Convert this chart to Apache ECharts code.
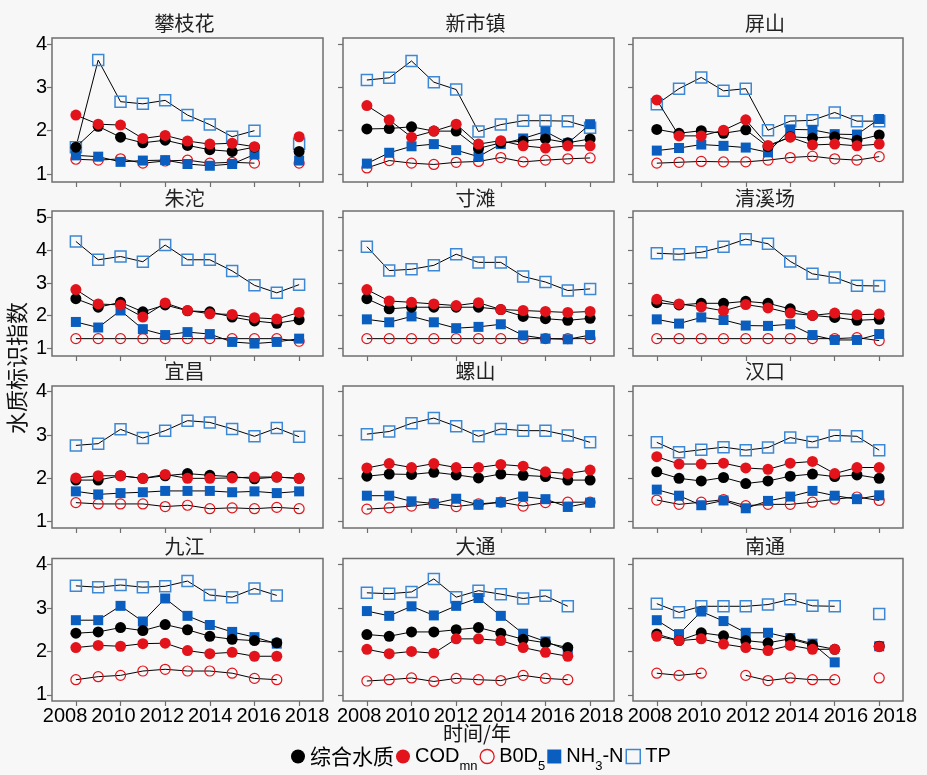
<!DOCTYPE html>
<html><head><meta charset="utf-8">
<script src="https://cdn.jsdelivr.net/npm/echarts@6/dist/echarts.min.js"></script>
<style>html,body{margin:0;padding:0;background:#f7f7f7}#c{width:927px;height:775px}</style>
</head><body><div id="c"></div>
<script>
// ---------------- data ----------------
const years = [2008,2009,2010,2011,2012,2013,2014,2015,2016,2017,2018];
const xTicks = [2008,2010,2012,2014,2016,2018];
const yTicks4 = [1,2,3,4];
const yTicks5 = [1,2,3,4,5];
const stations = ['攀枝花','新市镇','屏山','朱沱','寸滩','清溪场','宜昌','螺山','汉口','九江','大通','南通'];

// 综合水质
const wqi = [
  [1.62,2.10,1.85,1.72,1.78,1.66,1.56,1.52,1.62,null,1.52],
  [2.04,2.05,2.09,1.99,1.99,1.59,1.72,1.76,1.81,1.72,1.81],
  [2.03,1.94,2.00,1.94,2.02,1.63,1.86,1.83,1.86,1.78,1.90],
  [2.52,2.26,2.41,2.12,2.33,2.15,2.12,1.96,1.84,1.77,1.88],
  [2.52,2.21,2.26,2.26,2.26,2.26,2.19,1.98,1.91,1.86,1.92],
  [2.40,2.33,2.38,2.38,2.44,2.38,2.21,2.01,1.95,1.86,1.89],
  [1.96,1.96,2.06,2.00,2.06,2.11,2.07,2.04,1.99,2.03,2.00],
  [2.05,2.10,2.09,2.14,2.08,2.01,2.10,2.07,2.04,1.96,1.96],
  [2.15,2.00,1.94,2.02,1.88,1.94,2.05,2.10,2.04,2.08,2.00],
  [2.42,2.45,2.55,2.48,2.62,2.50,2.35,2.28,2.25,2.20,null],
  [2.39,2.35,2.45,2.45,2.50,2.55,2.42,2.28,2.20,2.09,null],
  [2.40,2.25,2.43,2.36,2.25,2.20,2.29,2.15,2.05,null,2.12]
];
// COD_mn
const cod = [
  [2.36,2.15,2.13,1.82,1.89,1.76,1.69,1.71,1.63,null,1.86],
  [2.58,2.25,1.85,1.99,2.15,1.69,1.77,1.65,1.60,1.65,1.65],
  [2.71,1.88,1.88,2.01,2.25,1.66,1.85,1.67,1.69,1.65,1.69],
  [2.80,2.36,2.33,1.96,2.39,2.16,2.06,2.04,1.94,1.90,2.10],
  [2.80,2.45,2.41,2.36,2.31,2.40,2.19,2.16,2.13,2.10,2.13],
  [2.50,2.36,2.27,2.15,2.34,2.24,2.08,2.01,2.08,2.03,2.05],
  [2.01,2.06,2.06,2.00,2.09,2.00,2.00,2.01,2.03,2.03,2.00],
  [2.24,2.34,2.25,2.34,2.25,2.25,2.32,2.28,2.15,2.11,2.19],
  [2.50,2.33,2.33,2.35,2.24,2.21,2.35,2.39,2.11,2.25,2.25],
  [2.09,2.14,2.12,2.18,2.19,2.02,1.95,1.98,1.89,1.89,null],
  [2.05,1.95,2.00,1.96,2.29,2.29,2.25,2.09,1.98,1.89,null],
  [2.35,2.25,2.29,2.17,2.09,2.02,2.14,2.05,2.05,null,2.11]
];
// BOD5
const bod = [
  [1.34,1.32,1.35,1.25,1.30,1.32,1.25,1.27,1.25,null,1.25],
  [1.14,1.31,1.25,1.22,1.27,1.29,1.38,1.28,1.32,1.35,1.37],
  [1.25,1.27,1.29,1.28,1.28,1.32,1.38,1.41,1.35,1.32,1.40],
  [1.30,1.30,1.30,1.30,1.30,1.30,1.30,1.30,1.30,1.30,1.22],
  [1.30,1.30,1.30,1.30,1.30,1.30,1.30,1.30,1.30,1.30,1.30],
  [1.30,1.30,1.30,1.30,1.30,1.30,1.30,1.30,1.30,1.33,1.24],
  [1.44,1.41,1.41,1.41,1.35,1.38,1.30,1.32,1.30,1.33,1.30],
  [1.29,1.32,1.36,1.42,1.35,1.41,1.45,1.36,1.44,1.45,1.45],
  [1.50,1.40,1.45,1.51,1.37,1.40,1.40,1.45,1.52,1.57,1.49],
  [1.35,1.42,1.45,1.55,1.59,1.55,1.55,1.50,1.38,1.35,null],
  [1.32,1.35,1.39,1.31,1.38,1.35,1.33,1.45,1.38,1.35,null],
  [1.50,1.45,1.50,null,1.45,1.33,1.39,1.35,1.35,null,1.39]
];
// NH3-N
const nh3 = [
  [1.43,1.40,1.28,1.31,1.32,1.23,1.19,1.23,1.45,null,1.31],
  [1.24,1.49,1.64,1.69,1.55,1.40,1.69,1.82,1.98,1.71,2.15],
  [1.54,1.60,1.68,1.65,1.61,1.50,2.03,2.02,1.92,1.91,2.27],
  [1.81,1.64,2.16,1.59,1.41,1.50,1.44,1.20,1.15,1.20,1.30],
  [1.89,1.80,1.98,1.80,1.62,1.66,1.74,1.40,1.30,1.28,1.41],
  [1.89,1.76,1.95,1.87,1.70,1.69,1.74,1.41,1.26,1.26,1.44],
  [1.70,1.63,1.66,1.68,1.71,1.71,1.71,1.68,1.70,1.66,1.70],
  [1.60,1.60,1.47,1.42,1.53,1.39,1.45,1.58,1.52,1.34,1.44],
  [1.74,1.60,1.38,1.49,1.31,1.48,1.58,1.71,1.60,1.52,1.61],
  [2.72,2.72,3.05,2.69,3.22,2.82,2.61,2.45,2.33,2.18,null],
  [2.93,2.82,3.04,2.83,3.05,3.23,2.82,2.41,2.23,2.03,null],
  [2.72,2.40,2.92,2.70,2.43,2.43,2.31,2.18,1.75,null,2.12]
];
// TP
const tp = [
  [1.62,3.63,2.67,2.62,2.70,2.36,2.14,1.86,2.00,null,1.70],
  [3.17,3.22,3.61,3.12,2.95,1.98,2.14,2.23,2.23,2.22,2.07],
  [2.61,2.97,3.23,2.92,2.97,2.01,2.22,2.24,2.42,2.22,2.22],
  [4.27,3.71,3.81,3.65,4.16,3.71,3.71,3.37,2.93,2.70,2.95],
  [4.11,3.38,3.42,3.54,3.88,3.63,3.63,3.20,3.03,2.77,2.82],
  [3.91,3.88,3.94,4.11,4.34,4.20,3.66,3.28,3.17,2.92,2.91],
  [2.76,2.80,3.13,2.93,3.10,3.33,3.29,3.14,2.97,3.16,2.96],
  [3.02,3.08,3.27,3.39,3.20,2.97,3.14,3.10,3.10,2.99,2.83],
  [2.83,2.60,2.66,2.72,2.65,2.71,2.94,2.84,2.99,2.97,2.65],
  [3.51,3.48,3.53,3.48,3.50,3.62,3.30,3.25,3.45,3.29,null],
  [3.35,3.33,3.37,3.67,3.25,3.40,3.32,3.22,3.28,3.04,null],
  [3.10,2.90,3.04,3.04,3.04,3.08,3.20,3.05,3.04,null,2.86]
];

// ---------------- layout ----------------
const colLeft = [52, 343, 633], colW = [271, 271, 270];
const rowTop = [38, 211, 386, 558.5], rowH = [144, 145, 142, 142.5];
const rowRange = [[0.815, 4.14], [0.77, 5.2], [0.855, 4.13], [0.86, 4.14]];
// the year labels in the reference are spread a little wider than the ticks
const labelRange = [[2007.46, 2018.66], [2007.33, 2018.53], [2007.31, 2018.33]];
const titleY = [23, 198, 371, 546];
const latin = 'Liberation Sans, Arial, sans-serif';
const cjk = '"Noto Sans CJK SC", sans-serif';
const frame = '#6f6f6f';

const defs = [
  {name: 'TP',    data: tp,  symbol: 'rect',   size: 11, item: {color: 'rgba(255,255,255,0)', borderColor: '#3c88d4', borderWidth: 1.5}, z: 2},
  {name: 'B0D5',  data: bod, symbol: 'circle', size: 10, item: {color: 'rgba(255,255,255,0)', borderColor: '#e3131b', borderWidth: 1.2}, z: 3},
  {name: 'NH3-N', data: nh3, symbol: 'rect',   size: 10, item: {color: '#0a5ebf'}, z: 4},
  {name: '综合水质', data: wqi, symbol: 'circle', size: 11, item: {color: '#000000'}, z: 5},
  {name: 'CODmn', data: cod, symbol: 'circle', size: 11, item: {color: '#e3131b'}, z: 6}
];

const grids = [], xAxes = [], yAxes = [], series = [], titles = [];
stations.forEach((st, p) => {
  const r = Math.floor(p / 3), c = p % 3;
  grids.push({left: colLeft[c], top: rowTop[r], width: colW[c], height: rowH[r],
    show: true, borderColor: frame, borderWidth: 1.5, backgroundColor: '#f8f8f8', containLabel: false});
  const xi = xAxes.length;
  xAxes.push({type: 'value', gridIndex: p, position: 'bottom', min: 2006.93, max: 2019.07,
    axisLine: {show: false}, splitLine: {show: false},
    axisTick: {show: true, inside: false, length: 5, customValues: xTicks, lineStyle: {color: frame, width: 1.2}},
    axisLabel: {show: false}});
  if (r === 3) {
    xAxes.push({type: 'value', gridIndex: p, position: 'bottom', offset: 0,
      min: labelRange[c][0], max: labelRange[c][1],
      axisLine: {show: false}, splitLine: {show: false}, axisTick: {show: false},
      axisLabel: {show: true, customValues: xTicks, interval: 0, hideOverlap: false,
        formatter: v => String(v), fontSize: 20, color: '#000', fontFamily: latin, margin: 5}});
  }
  const yt = r === 1 ? yTicks5 : yTicks4;
  yAxes.push({type: 'value', gridIndex: p, min: rowRange[r][0], max: rowRange[r][1],
    axisLine: {show: false}, splitLine: {show: false},
    axisTick: {show: true, inside: false, length: 5, customValues: yt, lineStyle: {color: frame, width: 1.2}},
    axisLabel: {show: c === 0, customValues: yt, formatter: v => String(v), fontSize: 20, color: '#000', fontFamily: latin, margin: 5}});
  titles.push({text: st, left: colLeft[c] + colW[c] / 2 - 3, top: titleY[r] - 12, textAlign: 'center', padding: 0,
    textStyle: {fontSize: 20, fontWeight: 'normal', color: '#222', fontFamily: cjk, lineHeight: 24}});
  defs.forEach(d => {
    series.push({type: 'line', name: d.name, xAxisIndex: xi, yAxisIndex: p,
      data: years.map((y, i) => [y, d.data[p][i] === null ? '-' : d.data[p][i]]),
      symbol: d.symbol, symbolSize: d.size, showAllSymbol: true, itemStyle: d.item,
      lineStyle: {color: '#000', width: 1}, connectNulls: false, clip: false, z: d.z,
      emphasis: {disabled: true}, animation: false});
  });
});

const legendNames = {'综合水质': '{cjk|综合水质}', 'CODmn': 'COD{sub|mn}', 'B0D5': 'B0D{sub|5}', 'NH3-N': 'NH{sub|3}-N', 'TP': 'TP'};

const option = {
  backgroundColor: '#f7f7f7',
  animation: false,
  title: titles,
  grid: grids, xAxis: xAxes, yAxis: yAxes, series: series,
  legend: {
    left: 291, top: 740, padding: 0, itemGap: 2, itemWidth: 14, itemHeight: 14,
    selectedMode: false,
    data: [
      {name: '综合水质', icon: 'circle', itemStyle: {color: '#000'}},
      {name: 'CODmn', icon: 'circle', itemStyle: {color: '#e3131b'}},
      {name: 'B0D5', icon: 'circle', itemStyle: {color: 'rgba(255,255,255,0)', borderColor: '#e3131b', borderWidth: 1.3}},
      {name: 'NH3-N', icon: 'rect', itemStyle: {color: '#0a5ebf'}},
      {name: 'TP', icon: 'rect', itemStyle: {color: 'rgba(255,255,255,0)', borderColor: '#3c88d4', borderWidth: 1.5}}
    ],
    formatter: n => legendNames[n],
    textStyle: {fontSize: 20, color: '#000', fontFamily: latin, lineHeight: 24,
      rich: {
        cjk: {fontSize: 21, lineHeight: 24, color: '#000', fontFamily: cjk},
        sub: {fontSize: 13, lineHeight: 14, padding: [20, 0, 0, 0], color: '#000', fontFamily: latin}
      }}
  },
  graphic: [
    {type: 'text', x: 17, y: 368, rotation: Math.PI / 2,
      style: {text: '水质标识指数', font: '22px "Noto Sans CJK SC"', fill: '#111', align: 'center', verticalAlign: 'middle'}},
    {type: 'text', x: 477, y: 733,
      style: {text: '时间/年', font: '20px "Noto Sans CJK SC"', fill: '#111', align: 'center', verticalAlign: 'middle'}}
  ]
};
const chart = echarts.init(document.getElementById('c'));
chart.setOption(option);
</script></body></html>
